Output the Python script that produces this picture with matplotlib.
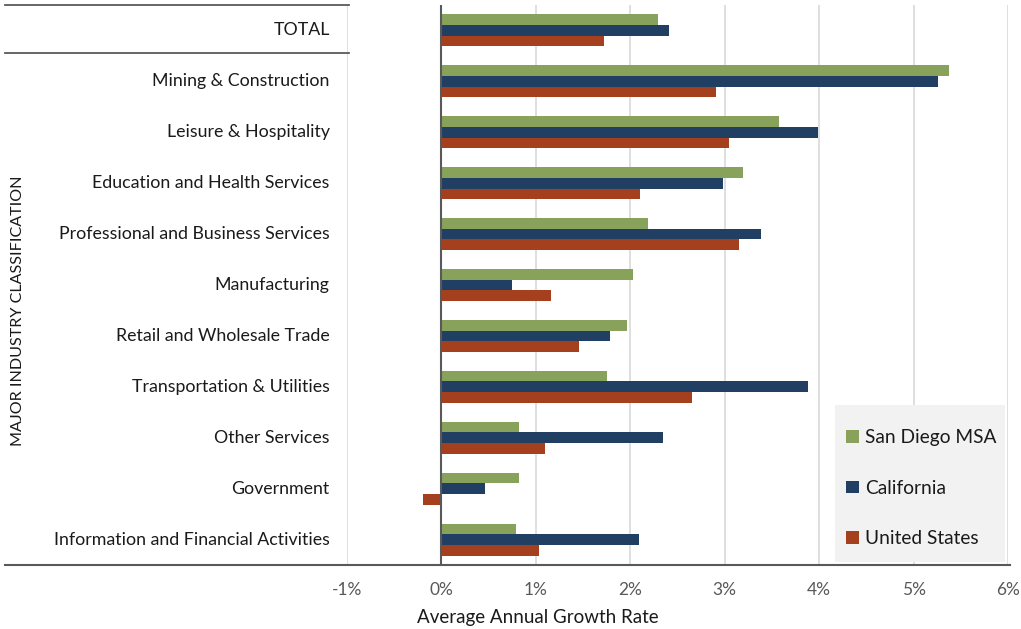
import matplotlib
matplotlib.use("Agg")
import matplotlib.pyplot as plt
from matplotlib.lines import Line2D
from matplotlib.patches import Patch, Rectangle
import numpy as np

plt.rcParams['font.family'] = ['Lato', 'DejaVu Sans']

categories = ["TOTAL", "Mining & Construction", "Leisure & Hospitality",
              "Education and Health Services", "Professional and Business Services",
              "Manufacturing", "Retail and Wholesale Trade", "Transportation & Utilities",
              "Other Services", "Government", "Information and Financial Activities"]
san_diego = [2.29, 5.37, 3.57, 3.19, 2.19, 2.03, 1.97, 1.75, 0.82, 0.82, 0.79]
california = [2.41, 5.26, 3.99, 2.98, 3.38, 0.75, 1.79, 3.88, 2.35, 0.46, 2.09]
united_states = [1.72, 2.91, 3.05, 2.10, 3.15, 1.16, 1.46, 2.65, 1.10, -0.20, 1.03]
series_names = ["San Diego MSA", "California", "United States"]
colors = ["#88a25b", "#203f62", "#a5401e"]
xticks = [-1, 0, 1, 2, 3, 4, 5, 6]
xtick_labels = ["-1%", "0%", "1%", "2%", "3%", "4%", "5%", "6%"]

W, H = 1021, 629
fig = plt.figure(figsize=(W / 100, H / 100), dpi=100)
ax = fig.add_axes([347 / W, 1 - 565 / H, (1008 - 347) / W, (565 - 5) / H])

y = np.arange(len(categories))
h = 0.21
for vals, off, c in zip([san_diego, california, united_states], [-h, 0, h], colors):
    ax.barh(y + off, vals, height=h, color=c, zorder=3)

ax.set_xlim(-1, 6)
ax.set_ylim(len(categories) - 0.5, -0.5)
ax.set_xticks(xticks)
ax.set_xticklabels(xtick_labels)
ax.set_yticks(y)
ax.set_yticklabels(categories)
ax.tick_params(axis='x', length=0, pad=12, labelsize=12.5, labelcolor="#595959")
ax.tick_params(axis='y', length=0, pad=12.5, labelsize=12.8, labelcolor="#1a1a1a")
for lbl in ax.get_yticklabels():
    lbl.set_va('center')
for s in ax.spines.values():
    s.set_visible(False)
ax.grid(axis='x', color="#d9d9d9", linewidth=1.2, zorder=0)
ax.axvline(0, color="#595959", linewidth=1.5, zorder=4)

# category separators and bottom line
def fl(x0, x1, yp, **kw):
    fig.add_artist(Line2D([x0 / W, x1 / W], [1 - yp / H, 1 - yp / H], **kw))
fl(5, 349, 5, color="#595959", linewidth=1.3)
fl(5, 349, 53, color="#595959", linewidth=1.3)
fl(5, 1010, 565, color="#595959", linewidth=1.5)

fig.text(18 / W, 1 - 311 / H, "MAJOR INDUSTRY CLASSIFICATION", rotation=90,
         ha='center', va='center', fontsize=11.6, color="#1a1a1a")
fig.text(538 / W, 1 - 618 / H, "Average Annual Growth Rate", ha='center', va='center',
         fontsize=13.5, color="#1a1a1a")

# legend background box
fig.add_artist(Rectangle((835 / W, 1 - 562 / H), (1005 - 835) / W, (562 - 405) / H,
                         transform=fig.transFigure, facecolor="#f2f2f2",
                         edgecolor="none", zorder=5))
handles = [Patch(facecolor=c, edgecolor='none') for c in colors]
leg = fig.legend(handles, series_names, loc='upper left',
                 bbox_to_anchor=(830 / W, 1 - 413 / H), borderaxespad=0,
                 frameon=False, fontsize=13.8, handlelength=0.65, handleheight=0.65,
                 handletextpad=0.35, labelspacing=1.75, borderpad=0.85)
leg.set_zorder(6)
for t in leg.get_texts():
    t.set_color("#1a1a1a")

fig.savefig("out.png", dpi=100)
